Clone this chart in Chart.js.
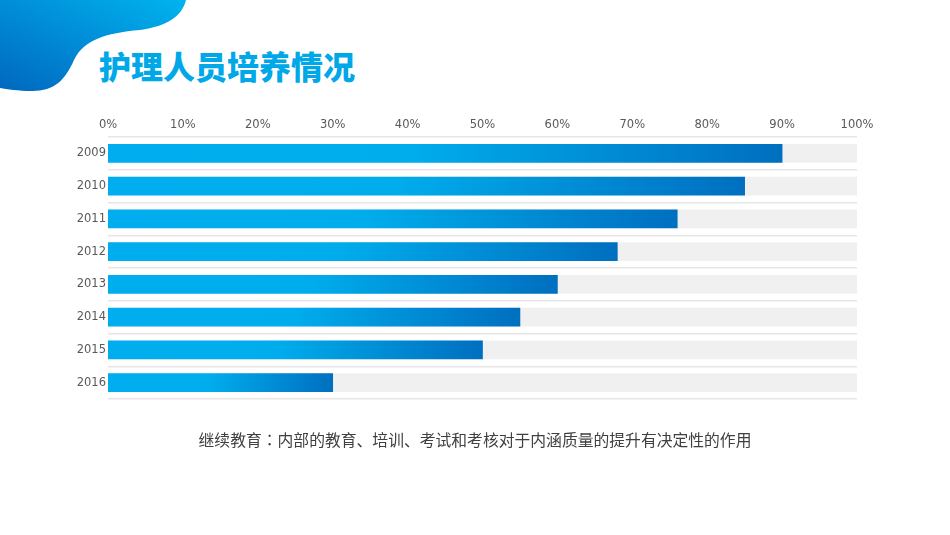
<!DOCTYPE html>
<html>
<head>
<meta charset="utf-8">
<script src="https://cdn.jsdelivr.net/npm/chart.js@4.4.1/dist/chart.umd.min.js"></script>
<style>
  html, body { margin: 0; padding: 0; background: #fff; }
  body { width: 950px; height: 535px; position: relative; overflow: hidden; font-family: "Noto Sans CJK SC", sans-serif; }
  #blob { position: absolute; left: 0; top: 0; }
  #title { position: absolute; left: 99px; top: 47px; font-size: 32px; line-height: 36px; font-weight: 900; color: #00a8e8; }
  #caption { position: absolute; left: 0; width: 950px; top: 429px; text-align: center; font-size: 15.8px; line-height: 22px; color: #404040; }
  #caption .colon { font-family: "Noto Sans CJK JP", sans-serif; }
  #wrap { position: absolute; left: 0; top: 0; width: 950px; height: 535px; }
</style>
</head>
<body>
<svg id="blob" width="200" height="100" viewBox="0 0 200 100">
  <defs>
    <linearGradient id="bg" x1="0" y1="1" x2="1" y2="0">
      <stop offset="0" stop-color="#0068bf"/>
      <stop offset="0.6" stop-color="#0095dc"/>
      <stop offset="1" stop-color="#00b4ee"/>
    </linearGradient>
  </defs>
  <path d="M0,0 L186,0 C182,16 168,26 140,30 C105,33 84,40 74,60 C65,80 55,91 32,91 C18,91 7,89 0,88 Z" fill="url(#bg)"/>
</svg>
<div id="title">护理人员培养情况</div>
<div id="wrap"><canvas id="chart" width="950" height="535"></canvas></div>
<div id="caption">继续教育<span class="colon">：</span>内部的教育、培训、考试和考核对于内涵质量的提升有决定性的作用</div>
<script>
const years = ["2009", "2010", "2011", "2012", "2013", "2014", "2015", "2016"];
const rates = [90, 85, 76, 68, 60, 55, 50, 30];
const track = [100, 100, 100, 100, 100, 100, 100, 100];

const tickColor = "#595959";

// gradient along each bar, light cyan to deep blue at the end
function barGradient(context) {
    const chart = context.chart;
    if (!chart.chartArea) return "#00aeef";
    const x = chart.scales.x;
    const x0 = x.getPixelForValue(0);
    const x1 = x.getPixelForValue(context.raw);
    const g = chart.ctx.createLinearGradient(x0, 0, x1, 0);
    g.addColorStop(0, "#00aeef");
    g.addColorStop(0.45, "#00adec");
    g.addColorStop(1, "#006fc0");
    return g;
}

new Chart(document.getElementById("chart"), {
    type: "bar",
    data: {
        labels: years,
        datasets: [
            {
                label: "rate",
                data: rates,
                backgroundColor: barGradient,
                barThickness: 18,
                grouped: false
            },
            {
                label: "track",
                data: track,
                backgroundColor: "#f0f0f0",
                barThickness: 18,
                grouped: false
            }
        ]
    },
    options: {
        indexAxis: "y",
        responsive: false,
        animation: false,
        layout: { padding: { left: 0, right: 93, top: 111, bottom: 136 } },
        plugins: {
            legend: { display: false },
            tooltip: { enabled: false }
        },
        scales: {
            x: {
                position: "top",
                min: 0,
                max: 100,
                grid: { display: false, drawTicks: false },
                border: { display: false },
                ticks: {
                    stepSize: 10,
                    padding: 5,
                    color: tickColor,
                    font: { family: "DejaVu Sans", size: 11.5 },
                    callback: v => v + "%"
                },
                afterFit: s => { s.height = 26; }
            },
            y: {
                grid: { color: "#e6e6e6", lineWidth: 1.5, drawTicks: false, offset: true },
                border: { display: false },
                ticks: {
                    padding: 2,
                    color: tickColor,
                    font: { family: "DejaVu Sans", size: 11.5 }
                },
                afterFit: s => { s.width = 108; }
            }
        }
    }
});
</script>
</body>
</html>
